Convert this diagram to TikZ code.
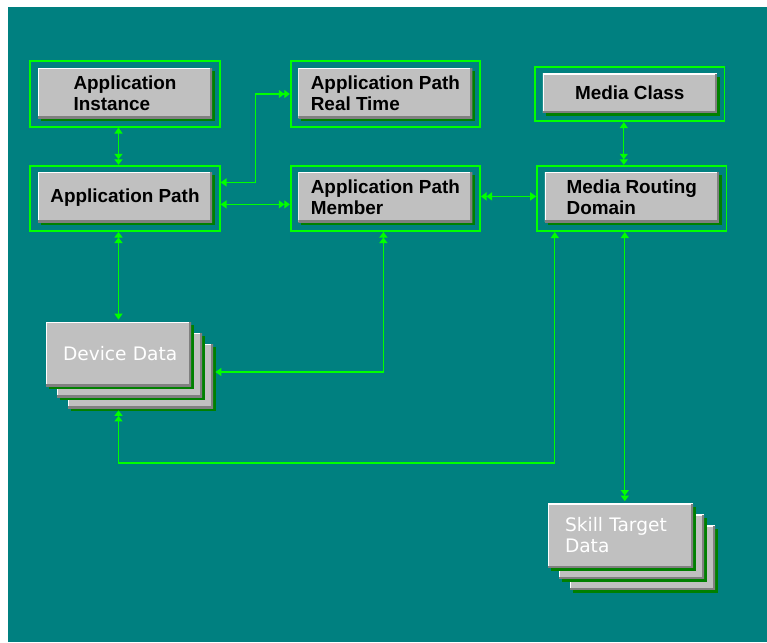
\documentclass[tikz,border=0pt]{standalone}
\usepackage{fontspec}
\setmainfont{Liberation Sans}
\newfontfamily\stackfont{DejaVu Sans}
\usetikzlibrary{arrows.meta,shadows,positioning,fit}
\definecolor{clrBack}{HTML}{008080}
\definecolor{clrLink}{HTML}{00FF00}
\definecolor{clrShade}{HTML}{008000}
\definecolor{clrBox}{HTML}{C0C0C0}
\definecolor{clrEdge}{HTML}{808080}
\tikzset{one/.tip={Triangle[width=8pt,length=6pt]},
  many/.tip={Triangle[width=8pt,length=5.5pt] Triangle[width=8pt,length=5.5pt]}}
\tikzstyle{win_style0}=[rectangle, fill=clrBox,
  drop shadow={shadow xshift=3pt, shadow yshift=-3pt, fill=clrShade, opacity=1},
  path picture={
    \draw[white, line width=2pt] (path picture bounding box.south west) -- (path picture bounding box.north west) -- (path picture bounding box.north east);
    \draw[clrEdge, line width=4pt] (path picture bounding box.south west) -- (path picture bounding box.south east) -- (path picture bounding box.north east);
  }]
\tikzstyle{win_box}=[win_style0, minimum width=174pt, minimum height=50pt, align=left,
  font=\bfseries\fontsize{18.9}{21}\selectfont]
\tikzstyle{stack_box}=[win_style0, minimum height=64pt, text width=125pt, inner xsep=10pt,
  align=left, text=white, font=\stackfont\fontsize{18.6}{21}\selectfont]
\tikzstyle{frame_box}=[draw=clrLink, line width=1.8pt, inner sep=7.5pt, yshift=-1pt]
\tikzstyle{link}=[draw=clrLink, line width=1.3pt]

\begin{document}
\begin{tikzpicture}[x=1pt, y=1pt]
		\useasboundingbox (0,0) rectangle (767,-642) ;
		\fill[clrBack] (8,-7) rectangle (767,-642) ;

		\node[win_box] (inst) at (125,-93) {Application\\Instance} ;
		\node[win_box, below=54pt of inst] (path) {Application Path} ;
		\node[win_box, right=86pt of inst] (rt) {Application Path\\Real Time} ;
		\node[win_box, below=54pt of rt] (mem) {Application Path\\Member} ;
		\node[win_box, minimum height=39pt, right=70pt of rt] (mc) {Media Class} ;
		\node[win_box, right=72pt of mem] (mrd) {Media Routing\\Domain} ;

		% frames
		\node[frame_box, fit=(inst)] (instF) {} ;
		\node[frame_box, fit=(path)] (pathF) {} ;
		\node[frame_box, fit=(rt)] (rtF) {} ;
		\node[frame_box, fit=(mem)] (memF) {} ;
		\node[frame_box, fit=(mc)] (mcF) {} ;
		\node[frame_box, fit=(mrd)] (mrdF) {} ;

		% stacked data
		\node[stack_box] (dd3) at (140.5,-376) {} ;
		\node[stack_box] (dd2) at (129.5,-365) {} ;
		\node[stack_box] (dd) at (118.5,-354) {\hspace*{7pt}Device Data} ;
		\node[fit=(dd)(dd3), inner sep=2pt] (ddS) {} ;

		\node[stack_box] (st3) at (642.5,-557.5) {} ;
		\node[stack_box] (st2) at (631.5,-546.5) {} ;
		\node[stack_box] (st) at (620.5,-535.5) {\hspace*{7pt}Skill Target\\\hspace*{7pt}Data} ;
		\node[fit=(st)(st3), inner sep=2pt] (stS) {} ;

		% links
		\draw[link, one-many] (instF.south -| dd.north) -- (pathF.north -| dd.north) ;
		\draw[link, one-many] ([yshift=16pt]pathF.east) -- ++(35,0) |- (rtF.west) ;
		\draw[link, one-many] ([yshift=-6pt]pathF.east) -- ([yshift=-6pt]pathF.east -| memF.west) ;
		\draw[link, many-one] ([yshift=2pt]memF.east) -- ([yshift=2pt]memF.east -| mrdF.west) ;
		\draw[link, one-many] ([xshift=-6pt]mcF.south) -- ([xshift=-6pt]mcF.south |- mrdF.north) ;
		\draw[link, many-one] (pathF.south -| dd.north) -- (ddS.north -| dd.north) ;
		\draw[link, many-one] ([xshift=-2pt]memF.south) |- ([yshift=-7pt]ddS.east) ;
		\draw[link, one-many] ([xshift=-77pt]mrdF.south) -- ++(0,-231) -| (ddS.south -| dd.north) ;
		\draw[link, one-many] ([xshift=-7pt]mrdF.south) -- ([xshift=-7pt]mrdF.south |- stS.north) ;
	\end{tikzpicture}
\end{document}
